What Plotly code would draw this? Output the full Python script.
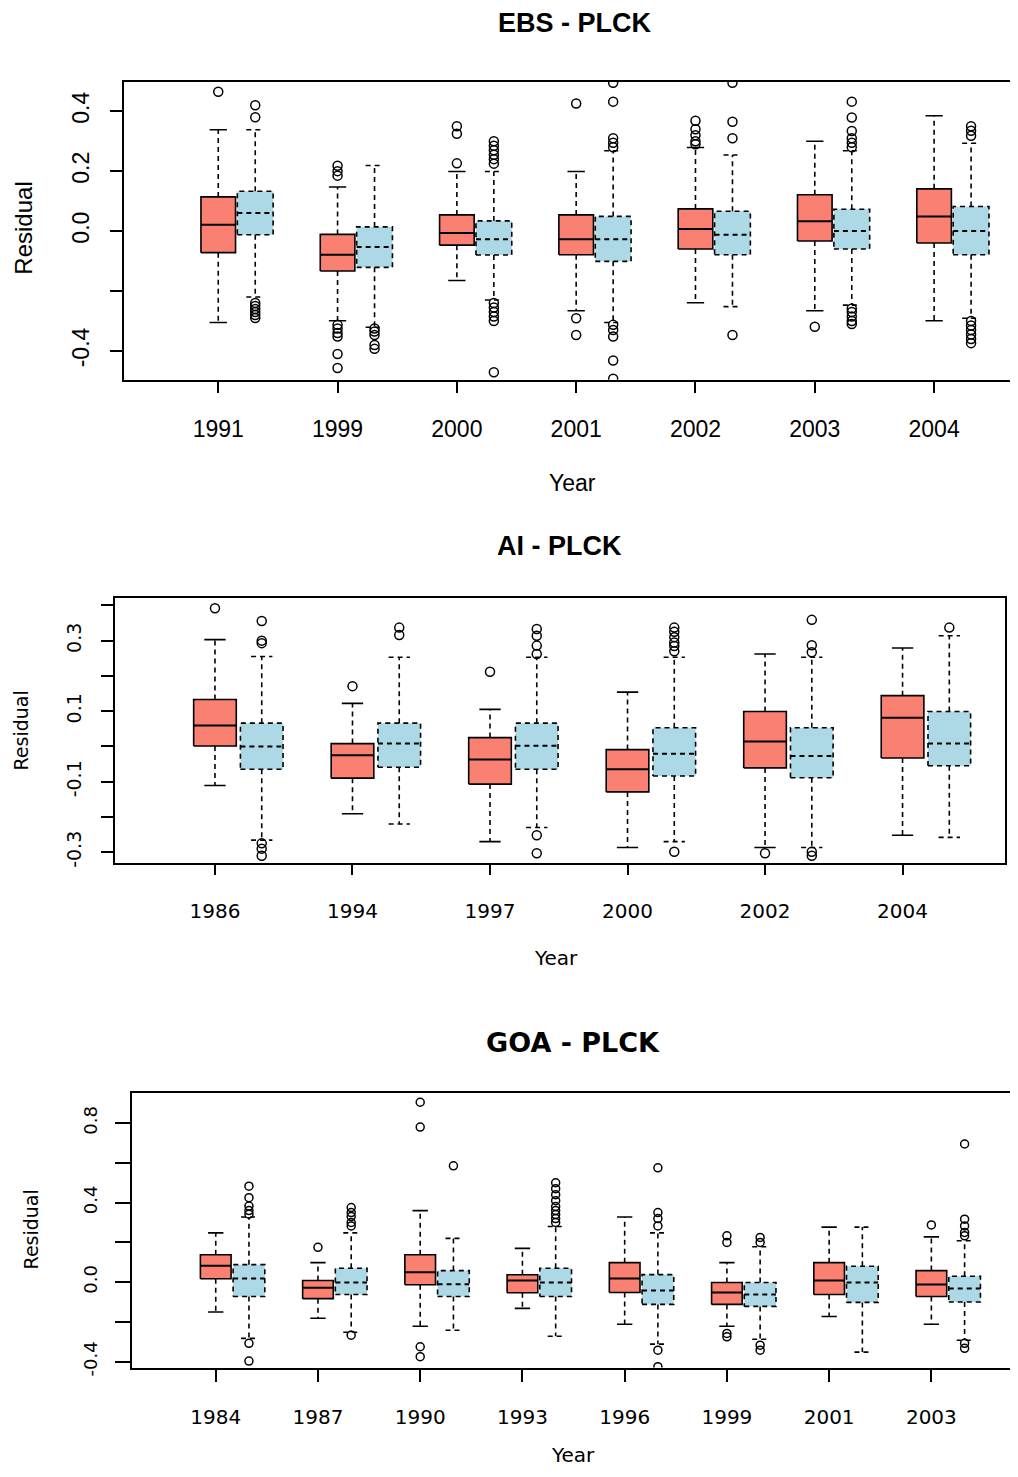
import plotly.graph_objects as go

# ---------------- EBS - PLCK ----------------
ebs_years = ["1991", "1999", "2000", "2001", "2002", "2003", "2004"]
ebs_a_lo = [-0.305, -0.299, -0.165, -0.266, -0.239, -0.266, -0.299]
ebs_a_q1 = [-0.072, -0.133, -0.047, -0.079, -0.060, -0.033, -0.040]
ebs_a_med = [0.021, -0.079, -0.006, -0.027, 0.007, 0.033, 0.049]
ebs_a_q3 = [0.114, -0.011, 0.054, 0.054, 0.074, 0.121, 0.141]
ebs_a_hi = [0.338, 0.147, 0.199, 0.199, 0.279, 0.300, 0.385]
ebs_a_out = [[0.465],
             [0.218, 0.20, 0.185, -0.313, -0.325, -0.34, -0.352, -0.41, -0.457],
             [0.35, 0.325, 0.226],
             [0.426, -0.291, -0.347],
             [0.368, 0.34, 0.32, 0.30, 0.29],
             [-0.319],
             []]
ebs_b_lo = [-0.220, -0.321, -0.230, -0.305, -0.252, -0.247, -0.291]
ebs_b_q1 = [-0.012, -0.121, -0.080, -0.101, -0.079, -0.060, -0.079]
ebs_b_med = [0.060, -0.053, -0.027, -0.027, -0.012, 0.0, 0.0]
ebs_b_q3 = [0.133, 0.014, 0.034, 0.049, 0.066, 0.073, 0.082]
ebs_b_hi = [0.338, 0.219, 0.199, 0.268, 0.254, 0.268, 0.293]
ebs_b_out = [[0.42, 0.38, -0.24, -0.25, -0.26, -0.27, -0.28, -0.29],
             [-0.325, -0.335, -0.347, -0.38, -0.393],
             [0.30, 0.285, 0.27, 0.255, 0.24, 0.225, -0.24, -0.255, -0.27, -0.285, -0.30, -0.471],
             [0.495, 0.432, 0.31, 0.295, 0.28, -0.313, -0.33, -0.352, -0.432, -0.493],
             [0.495, 0.365, 0.31, -0.347],
             [0.432, 0.379, 0.334, 0.31, 0.295, 0.28, -0.258, -0.27, -0.285, -0.30, -0.31],
             [0.35, 0.335, 0.318, -0.30, -0.315, -0.33, -0.345, -0.36, -0.374]]
ebs_yticks = [-0.4, -0.2, 0.0, 0.2, 0.4]
ebs_yticktext = ["-0.4", "", "0.0", "0.2", "0.4"]

# ---------------- AI - PLCK ----------------
ai_years = ["1986", "1994", "1997", "2000", "2002", "2004"]
ai_a_lo = [-0.111, -0.191, -0.270, -0.287, -0.287, -0.252]
ai_a_q1 = [0.001, -0.090, -0.107, -0.129, -0.061, -0.033]
ai_a_med = [0.059, -0.025, -0.037, -0.065, 0.014, 0.081]
ai_a_q3 = [0.133, 0.008, 0.025, -0.009, 0.099, 0.144]
ai_a_hi = [0.303, 0.122, 0.105, 0.154, 0.262, 0.279]
ai_a_out = [[0.392], [0.171], [0.212], [], [-0.303], []]
ai_b_lo = [-0.266, -0.220, -0.230, -0.270, -0.287, -0.258]
ai_b_q1 = [-0.065, -0.059, -0.065, -0.084, -0.089, -0.055]
ai_b_med = [0.0, 0.008, 0.002, -0.021, -0.027, 0.008]
ai_b_q3 = [0.066, 0.066, 0.066, 0.053, 0.053, 0.099]
ai_b_hi = [0.255, 0.253, 0.253, 0.253, 0.253, 0.314]
ai_b_out = [[0.356, 0.30, 0.293, -0.275, -0.29, -0.31],
            [0.337, 0.316],
            [0.333, 0.314, 0.286, 0.262, -0.252, -0.303],
            [0.337, 0.325, 0.31, 0.295, 0.285, 0.27, -0.299],
            [0.359, 0.287, 0.267, -0.299, -0.31],
            [0.337]]
ai_yticks = [-0.3, -0.2, -0.1, 0.0, 0.1, 0.2, 0.3, 0.4]
ai_yticktext = ["-0.3", "", "-0.1", "", "0.1", "", "0.3", ""]

# ---------------- GOA - PLCK ----------------
goa_years = ["1984", "1987", "1990", "1993", "1996", "1999", "2001", "2003"]
goa_a_lo = [-0.15, -0.182, -0.222, -0.132, -0.212, -0.222, -0.173, -0.212]
goa_a_q1 = [0.017, -0.083, -0.013, -0.053, -0.052, -0.112, -0.062, -0.072]
goa_a_med = [0.082, -0.028, 0.05, 0.008, 0.018, -0.052, 0.008, -0.012]
goa_a_q3 = [0.138, 0.008, 0.138, 0.037, 0.098, -0.002, 0.098, 0.058]
goa_a_hi = [0.248, 0.098, 0.36, 0.17, 0.328, 0.098, 0.277, 0.228]
goa_a_out = [[], [0.175], [0.905, 0.78, -0.325, -0.375], [], [],
             [0.233, 0.2, -0.258, -0.275], [], [0.288]]
goa_b_lo = [-0.283, -0.252, -0.242, -0.272, -0.312, -0.287, -0.352, -0.292]
goa_b_q1 = [-0.072, -0.062, -0.072, -0.072, -0.112, -0.122, -0.102, -0.1]
goa_b_med = [0.018, -0.002, -0.01, -0.002, -0.042, -0.062, -0.002, -0.032]
goa_b_q3 = [0.088, 0.07, 0.058, 0.07, 0.038, -0.002, 0.08, 0.03]
goa_b_hi = [0.328, 0.248, 0.22, 0.28, 0.248, 0.178, 0.277, 0.208]
goa_b_out = [[0.483, 0.425, 0.383, 0.36, 0.342, -0.308, -0.397],
             [0.375, 0.35, 0.33, 0.30, 0.283, -0.267],
             [0.585],
             [0.50, 0.47, 0.44, 0.41, 0.38, 0.36, 0.34, 0.32, 0.30],
             [0.575, 0.35, 0.32, 0.283, -0.342, -0.425],
             [0.225, 0.2, -0.317, -0.342],
             [],
             [0.695, 0.317, 0.283, 0.25, 0.233, -0.308, -0.333]]
goa_yticks = [-0.4, -0.2, 0.0, 0.2, 0.4, 0.6, 0.8]
goa_yticktext = ["-0.4", "", "0.0", "", "0.4", "", "0.8"]

SALMON = "#FA8072"
LIGHTBLUE = "#ADD8E6"
DASH = "5px,4px"

fig = go.Figure()


def add_group(xa, ya, offset, width, lo, q1, med, q3, hi, outs, fill, dashed, msize):
    n = len(med)
    pos = [i + 1 + offset for i in range(n)]
    bx, by, mx, my, wx, wy, cx, cy, ox, oy = [], [], [], [], [], [], [], [], [], []
    for i in range(n):
        p = pos[i]
        l, r = p - width / 2, p + width / 2
        bx += [l, r, r, l, l, None]
        by += [q1[i], q1[i], q3[i], q3[i], q1[i], None]
        mx += [l, r, None]
        my += [med[i], med[i], None]
        wx += [p, p, None, p, p, None]
        wy += [q3[i], hi[i], None, q1[i], lo[i], None]
        cx += [p - width / 4, p + width / 4, None, p - width / 4, p + width / 4, None]
        cy += [hi[i], hi[i], None, lo[i], lo[i], None]
        for v in outs[i]:
            ox.append(p)
            oy.append(v)
    box_dash = DASH if dashed else "solid"
    common = dict(xaxis=xa, yaxis=ya, showlegend=False, hoverinfo="skip")
    fig.add_trace(go.Scatter(x=bx, y=by, mode="lines", fill="toself", fillcolor=fill,
                             line=dict(color="black", width=1.6, dash=box_dash), **common))
    fig.add_trace(go.Scatter(x=mx, y=my, mode="lines",
                             line=dict(color="black", width=2, dash=box_dash), **common))
    fig.add_trace(go.Scatter(x=wx, y=wy, mode="lines",
                             line=dict(color="black", width=1.6, dash=DASH), **common))
    fig.add_trace(go.Scatter(x=cx, y=cy, mode="lines",
                             line=dict(color="black", width=1.6, dash=box_dash), **common))
    fig.add_trace(go.Scatter(x=ox, y=oy, mode="markers",
                             marker=dict(symbol="circle-open", size=msize, color="black",
                                         line=dict(width=1.5, color="black")), **common))


# panel 1
add_group("x", "y", 0.0, 0.29, ebs_a_lo, ebs_a_q1, ebs_a_med, ebs_a_q3, ebs_a_hi, ebs_a_out, SALMON, False, 9)
add_group("x", "y", 0.31, 0.30, ebs_b_lo, ebs_b_q1, ebs_b_med, ebs_b_q3, ebs_b_hi, ebs_b_out, LIGHTBLUE, True, 9)
# panel 2
add_group("x2", "y2", 0.0, 0.31, ai_a_lo, ai_a_q1, ai_a_med, ai_a_q3, ai_a_hi, ai_a_out, SALMON, False, 9)
add_group("x2", "y2", 0.34, 0.31, ai_b_lo, ai_b_q1, ai_b_med, ai_b_q3, ai_b_hi, ai_b_out, LIGHTBLUE, True, 9)
# panel 3
add_group("x3", "y3", 0.0, 0.30, goa_a_lo, goa_a_q1, goa_a_med, goa_a_q3, goa_a_hi, goa_a_out, SALMON, False, 8)
add_group("x3", "y3", 0.325, 0.31, goa_b_lo, goa_b_q1, goa_b_med, goa_b_q3, goa_b_hi, goa_b_out, LIGHTBLUE, True, 8)

# the page body keeps an 8px margin: the figure starts at (8, 8) on the page and
# reaches the window's right and bottom edges
OFF = 8
W, H = 1018 - OFF, 1477 - OFF
F1 = "Liberation Sans, Arial, sans-serif"
F2 = "DejaVu Sans, sans-serif"


def px_x(px):
    return min(1.0, (px - OFF) / W)


def px_y(px):
    return 1 - (px - OFF) / H


def xax(dom, rng, labels, font, size, standoff, ticklen, anchor):
    return dict(domain=dom, range=rng, tickvals=list(range(1, len(labels) + 1)), ticktext=labels,
                ticks="outside", ticklen=ticklen, tickwidth=1.5, tickcolor="black",
                showline=True, mirror=True, linecolor="black", linewidth=2,
                showgrid=False, zeroline=False, anchor=anchor,
                tickfont=dict(family=font, size=size, color="black"),
                ticklabelstandoff=standoff, tickangle=0)


def yax(dom, rng, vals, text, font, size, standoff, ticklen, anchor, mirror=True):
    return dict(domain=dom, range=rng, tickvals=vals, ticktext=text,
                ticks="outside", ticklen=ticklen, tickwidth=1.5, tickcolor="black",
                showline=True, mirror=mirror, linecolor="black", linewidth=2,
                showgrid=False, zeroline=False, anchor=anchor, tickangle=-90,
                tickfont=dict(family=font, size=size, color="black"),
                ticklabelstandoff=standoff)


x1_right = 1 + (1018 - 218.3) / 119.3
fig.update_layout(
    width=W, height=H, plot_bgcolor="white", paper_bgcolor="white",
    margin=dict(l=0, r=0, t=0, b=0), showlegend=False,
    xaxis=xax([px_x(124), 1.0], [0.21, x1_right], ebs_years, F1, 23, 17, 11, "y"),
    yaxis=yax([px_y(382), px_y(82)], [-0.496, 0.499], ebs_yticks, ebs_yticktext, F1, 23, 12, 12, "x",
              mirror=False),
    xaxis2=xax([px_x(115), px_x(1005)], [0.273, 6.745], ai_years, F2, 20, 19, 10, "y2"),
    yaxis2=yax([px_y(868), px_y(602)], [-0.330, 0.420], ai_yticks, ai_yticktext, F2, 19, 12, 12, "x2"),
    xaxis3=xax([px_x(132), px_x(1015)], [0.181, 8.818], goa_years, F2, 20, 18, 12, "y3"),
    yaxis3=yax([px_y(1376), px_y(1100)], [-0.43, 0.95], goa_yticks, goa_yticktext, F2, 18, 11, 15, "x3"),
)

ann = [
    ("<b>EBS - PLCK</b>", 575, 23, F1, 27, 0),
    ("Year", 572, 486, F1, 23, 0),
    ("Residual", 24, 230, F1, 24, -90),
    ("<b>AI - PLCK</b>", 559, 549, F1, 27, 0),
    ("Year", 556, 964, F2, 20, 0),
    ("Residual", 21, 735, F2, 19, -90),
    ("<b>GOA - PLCK</b>", 573, 1049, F2, 27, 0),
    ("Year", 573, 1464, F2, 20, 0),
    ("Residual", 31, 1237, F2, 19, -90),
]
for text, x, y, fam, size, ang in ann:
    fig.add_annotation(text=text, x=px_x(x), y=px_y(y), xref="paper", yref="paper",
                       xanchor="center", yanchor="middle", showarrow=False, textangle=ang,
                       font=dict(family=fam, size=size, color="black"))

fig.write_html("out.html")
